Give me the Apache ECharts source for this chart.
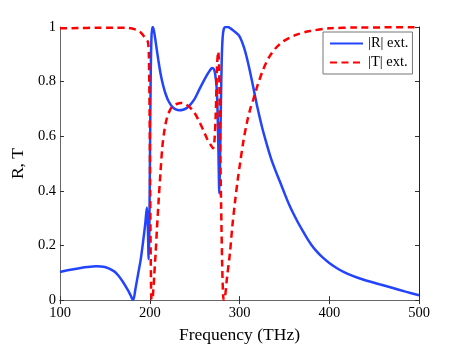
<!DOCTYPE html>
<html>
<head>
<meta charset="utf-8">
<script src="https://cdn.jsdelivr.net/npm/echarts@6/dist/echarts.min.js"></script>
<style>
html, body { margin: 0; padding: 0; background: #fff; }
#chart { width: 463px; height: 349px; }
</style>
</head>
<body>
<div id="chart"></div>
<script>
// reflection |R|
var freqR = [100, 110, 120, 130, 140, 150, 160, 165, 170, 175, 178, 181.5, 184, 187, 190, 193, 195, 196.8, 197.8, 198.8,
    199.5, 200.3, 201, 201.8, 202.8, 204, 205.5, 207.5, 209.5, 212, 215, 218, 221, 225, 229, 233, 237, 241, 245, 250,
    255, 260, 264, 267, 269.5, 271.5, 273, 274.5, 275.5, 276.5, 277.5, 278.3, 279.2, 280.2, 281.2, 282.5, 284.5, 287, 290, 295,
    300, 305, 310, 315, 320, 325, 330, 335, 340, 345, 350, 355, 360, 365, 370, 375, 380, 385, 392, 400,
    410, 420, 435, 456, 470, 485, 500];
var valR = [0.103, 0.110, 0.116, 0.121, 0.124, 0.121, 0.106, 0.09, 0.067, 0.04, 0.022, 0.0, 0.04, 0.095, 0.15, 0.225, 0.28, 0.339, 0.28, 0.15,
    0.25, 0.55, 0.8, 0.95, 1.0, 0.995, 0.97, 0.925, 0.88, 0.83, 0.785, 0.752, 0.728, 0.708, 0.698, 0.695, 0.697, 0.703, 0.715, 0.737,
    0.77, 0.802, 0.826, 0.841, 0.85, 0.845, 0.825, 0.78, 0.7, 0.55, 0.39, 0.5, 0.7, 0.88, 0.96, 0.993, 1.0, 1.0, 0.995, 0.982,
    0.966, 0.925, 0.862, 0.785, 0.705, 0.635, 0.575, 0.52, 0.475, 0.434, 0.392, 0.352, 0.317, 0.285, 0.256, 0.228, 0.203, 0.182, 0.158, 0.136,
    0.114, 0.097, 0.078, 0.058, 0.045, 0.031, 0.018];

// transmission |T|
var freqT = [100, 120, 140, 160, 175, 185, 190, 193, 196, 198, 199, 199.8, 200.5, 201.2, 202, 202.8, 203.8, 205, 206.5, 208,
    210, 212, 214, 216.5, 219, 222, 225, 230, 235, 240, 245, 250, 255, 260, 264, 268, 270.5, 272, 273.5, 275,
    276.3, 277.3, 278.3, 279.5, 280.7, 281.7, 282.5, 283.8, 286, 289.4, 292, 295, 298, 300.6, 304, 308, 312, 315.4, 320, 326.5,
    333, 341, 350, 363.7, 378.6, 400, 430, 500];
var valT = [0.995, 0.996, 0.997, 0.997, 0.997, 0.99, 0.98, 0.968, 0.955, 0.945, 0.9, 0.7, 0.4, 0.12, 0.0, 0.0, 0.03, 0.09, 0.17, 0.26,
    0.37, 0.47, 0.56, 0.625, 0.665, 0.692, 0.708, 0.718, 0.722, 0.717, 0.705, 0.685, 0.655, 0.62, 0.59, 0.568, 0.556, 0.58, 0.68, 0.86,
    0.91, 0.85, 0.6, 0.35, 0.13, 0.02, 0.0, 0.01, 0.08, 0.174, 0.27, 0.36, 0.44, 0.5, 0.575, 0.646, 0.7, 0.735, 0.785, 0.845,
    0.89, 0.925, 0.95, 0.972, 0.985, 0.995, 0.998, 0.999];

var xTicks = [100, 200, 300, 400, 500];
var yTicks = [0, 0.2, 0.4, 0.6, 0.8, 1];

function pairs(xs, ys) {
    var out = [];
    for (var i = 0; i < xs.length; i++) out.push([xs[i], ys[i]]);
    return out;
}

var serif = '"Liberation Serif", "DejaVu Serif", serif';
var myChart = echarts.init(document.getElementById('chart'), null, {renderer: 'canvas'});

var tick = {show: true, inside: true, length: 4, lineStyle: {color: '#333', width: 1}};

option = {
    animation: false,
    backgroundColor: '#fff',
    grid: {left: 60, right: 44, top: 27, bottom: 40},
    legend: {
        orient: 'vertical',
        left: 323,
        top: 32,
        padding: [4, 4, 4, 6],
        itemGap: 4,
        itemWidth: 33,
        itemHeight: 14,
        backgroundColor: '#fff',
        borderColor: '#777',
        borderWidth: 1,
        itemStyle: {opacity: 0},   // hide the symbol, keep the line sample
        textStyle: {fontFamily: serif, fontSize: 14.5, color: '#000'},
        data: ['|R| ext.', '|T| ext.']
    },
    xAxis: [{
        type: 'value',
        min: xTicks[0],
        max: xTicks[xTicks.length - 1],
        interval: 100,
        name: 'Frequency (THz)',
        nameLocation: 'middle',
        nameGap: 25,
        nameTextStyle: {fontFamily: serif, fontSize: 17.5, color: '#000'},
        axisLine: {lineStyle: {color: '#222', width: 1}},
        axisTick: tick,
        axisLabel: {fontFamily: serif, fontSize: 14.5, color: '#000', margin: 6},
        splitLine: {show: false}
    }, {
        type: 'value',
        position: 'top',
        min: xTicks[0],
        max: xTicks[xTicks.length - 1],
        interval: 100,
        axisLine: {lineStyle: {color: '#666', width: 1}},
        axisTick: tick,
        axisLabel: {show: false},
        splitLine: {show: false}
    }],
    yAxis: [{
        type: 'value',
        min: yTicks[0],
        max: yTicks[yTicks.length - 1],
        interval: 0.2,
        name: 'R, T',
        nameLocation: 'middle',
        nameGap: 25,
        nameTextStyle: {fontFamily: serif, fontSize: 17.5, color: '#000'},
        axisLine: {show: true, lineStyle: {color: '#666', width: 1}},
        axisTick: tick,
        axisLabel: {fontFamily: serif, fontSize: 14.5, color: '#000', margin: 4},
        splitLine: {show: false}
    }, {
        type: 'value',
        position: 'right',
        min: yTicks[0],
        max: yTicks[yTicks.length - 1],
        interval: 0.2,
        axisLine: {show: true, lineStyle: {color: '#222', width: 1}},
        axisTick: tick,
        axisLabel: {show: false},
        splitLine: {show: false}
    }],
    series: [{
        name: '|R| ext.',
        type: 'line',
        symbol: 'none',
        smooth: 0.3,
        data: pairs(freqR, valR),
        lineStyle: {color: '#2244ff', width: 2.5},
        itemStyle: {color: '#2244ff'},
        z: 3
    }, {
        name: '|T| ext.',
        type: 'line',
        symbol: 'none',
        smooth: 0.3,
        data: pairs(freqT, valT),
        lineStyle: {color: '#ff0000', width: 2.5, type: [7, 4.5]},
        itemStyle: {color: '#ff0000'},
        z: 4
    }]
};

myChart.setOption(option);
</script>
</body>
</html>
